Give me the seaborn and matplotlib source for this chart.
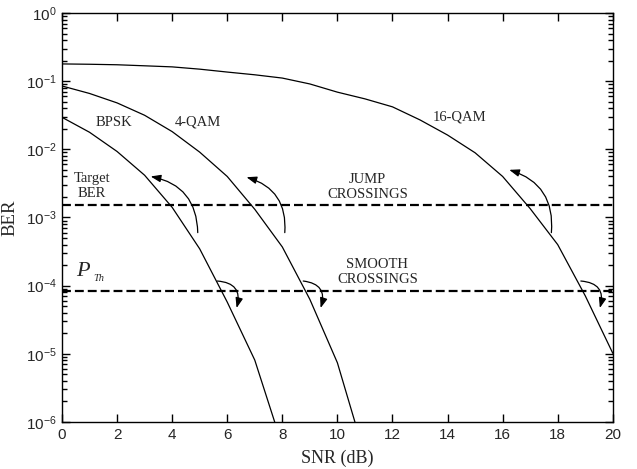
import numpy as np
import pandas as pd
import matplotlib
matplotlib.use("Agg")
import matplotlib.pyplot as plt
from matplotlib.ticker import FixedLocator, NullFormatter
import seaborn as sns

# BER curves (one point per dB)
snr_bpsk = [0, 1, 2, 3, 4, 5, 6, 7, 8]
ber_bpsk = [0.0295, 0.0178, 0.0093, 0.00417, 0.00141, 3.47e-4, 5.75e-5, 8.1e-6, 4.5e-7]

snr_4qam = [0, 1, 2, 3, 4, 5, 6, 7, 8, 9, 10, 11]
ber_4qam = [0.085, 0.066, 0.048, 0.0316, 0.0182, 0.0091, 0.0040, 0.00132,
            3.7e-4, 6.3e-5, 7.4e-6, 3.2e-7]

snr_16qam = list(range(21))
ber_16qam = [0.179, 0.177, 0.174, 0.168, 0.162, 0.150, 0.136, 0.124, 0.111,
             0.091, 0.069, 0.055, 0.042, 0.027, 0.0162, 0.0089, 0.0040,
             0.00135, 4.0e-4, 7.1e-5, 1.02e-5]

target_ber = 1.53e-3
p_th = 8.4e-5

# arrows: (tail snr, tail ber) -> (head snr, head ber)
jump_arrows = [((4.93, 6.0e-4), (3.22, 4.0e-3)),
               ((8.09, 6.0e-4), (6.70, 3.9e-3)),
               ((17.77, 6.0e-4), (16.24, 5.0e-3))]
smooth_arrows = [((5.64, 1.17e-4), (6.34, 4.7e-5)),
                 ((8.76, 1.17e-4), (9.39, 4.7e-5)),
                 ((18.84, 1.17e-4), (19.53, 4.7e-5))]

df = pd.concat([
    pd.DataFrame({"snr": snr_bpsk, "ber": ber_bpsk, "mod": "BPSK"}),
    pd.DataFrame({"snr": snr_4qam, "ber": ber_4qam, "mod": "4-QAM"}),
    pd.DataFrame({"snr": snr_16qam, "ber": ber_16qam, "mod": "16-QAM"}),
])

sns.set_style("ticks")
plt.rcParams["font.family"] = ["Liberation Sans", "DejaVu Sans"]
plt.rcParams["mathtext.fontset"] = "custom"
plt.rcParams["mathtext.rm"] = "Liberation Sans"

serif = ["Liberation Serif", "DejaVu Serif"]

fig = plt.figure(figsize=(6.37, 4.69), dpi=100)
ax = fig.add_axes([0.0973, 0.1002, 0.8647, 0.8721])

sns.lineplot(data=df, x="snr", y="ber", hue="mod", units="mod", estimator=None,
             palette=["black", "black", "black"], linewidth=0.9,
             legend=False, ax=ax, sort=False)

ax.set_yscale("log")
ax.set_xlim(0, 20)
ax.set_ylim(1e-6, 1)

ax.axhline(target_ber, color="black", lw=1.6, ls=(0, (4, 1.8)))
ax.axhline(p_th, color="black", lw=1.6, ls=(0, (4, 1.8)))

for (tx, ty), (hx, hy) in jump_arrows:
    ax.annotate("", xy=(hx, hy), xytext=(tx, ty),
                arrowprops=dict(arrowstyle="-|>,head_length=0.6,head_width=0.22",
                                connectionstyle="arc3,rad=0.4",
                                color="black", lw=0.9, shrinkA=0, shrinkB=0))
for (tx, ty), (hx, hy) in smooth_arrows:
    ax.annotate("", xy=(hx, hy), xytext=(tx, ty),
                arrowprops=dict(arrowstyle="-|>,head_length=0.6,head_width=0.22",
                                connectionstyle="arc3,rad=-0.6",
                                color="black", lw=0.9, shrinkA=0, shrinkB=0))

txt = dict(family=serif, fontsize=10.5, ha="center", va="center", linespacing=1.15)
ax.text(1.9, 10**-1.60, "BPSK", **txt)
ax.text(4.92, 10**-1.60, "4-QAM", **txt)
ax.text(14.45, 10**-1.52, "16-QAM", **txt)
ax.text(1.09, 10**-2.54, "Target\nBER", **txt)
ax.text(11.09, 10**-2.55, "JUMP\nCROSSINGS", **txt)
ax.text(11.45, 10**-3.80, "SMOOTH\nCROSSINGS", **txt)
# P_Th label: big italic P with a tiny italic subscript
ax.text(0.52, 10**-3.79, "P", family=serif, style="italic", fontsize=16,
        ha="left", va="center")
ax.text(1.14, 10**-3.90, "Th", family=serif, style="italic", fontsize=7.5,
        ha="left", va="center")

# ticks: inward, y minor ticks on both sides, no x minor ticks
decades = range(-6, 1)
ax.set_xticks(range(0, 21, 2))
ax.set_yticks([10.0**d for d in decades])
minor_locs = [m * 10.0**d for d in decades[:-1] for m in range(2, 10)]
ax.yaxis.set_minor_locator(FixedLocator(minor_locs))
ax.yaxis.set_minor_formatter(NullFormatter())
ax.set_ylim(1e-6, 1)
ax.tick_params(which="both", direction="in", top=True, right=True, left=True,
               bottom=True, labelsize=11, width=1.0, pad=4, color="black")
ax.tick_params(which="major", length=5.5)
ax.tick_params(axis="y", which="minor", length=3.5, width=1.0, left=True, right=True)
ax.tick_params(axis="x", which="minor", bottom=False, top=False)

ax.set_xlabel("SNR (dB)", family=serif, fontsize=13, labelpad=6)
ax.set_ylabel("BER", family=serif, fontsize=13.5, labelpad=5)

for s in ax.spines.values():
    s.set_linewidth(1.0)
    s.set_color("black")

fig.savefig("out.png", dpi=100)
